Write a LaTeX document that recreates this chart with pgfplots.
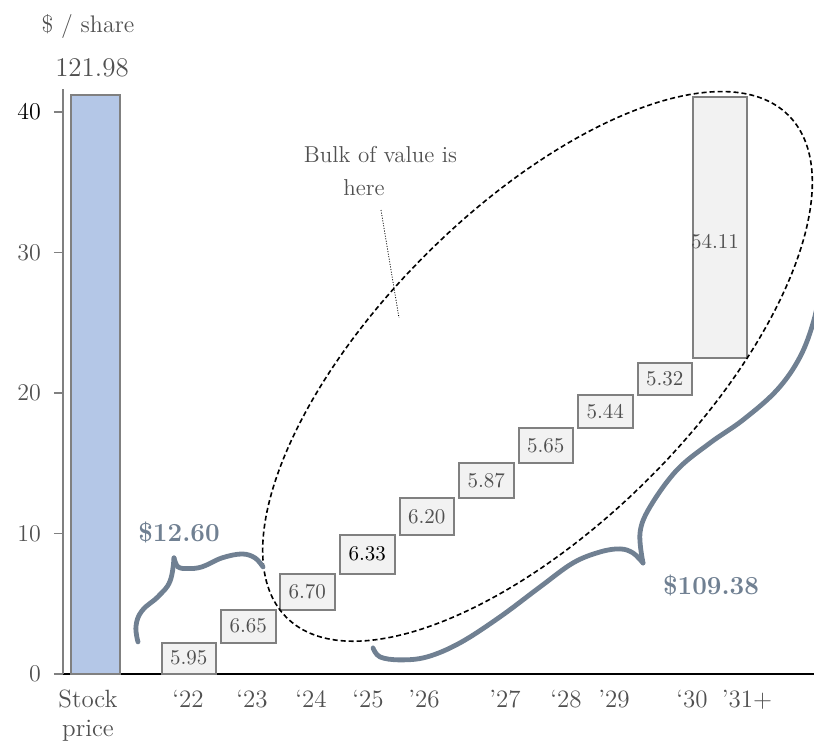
\documentclass[border=0pt]{standalone}
\usepackage{pgfplots}
\pgfplotsset{compat=1.18}
\usepackage{pgfplotstable}

\definecolor{barblue}{RGB}{180,199,231}
\definecolor{boxfill}{RGB}{242,242,242}
\definecolor{boxline}{RGB}{128,128,128}
\definecolor{txtgray}{RGB}{80,80,80}
\definecolor{slate}{RGB}{112,128,146}

% floating boxes: left, right, bottom, top (x in px of the 814 wide picture)
\newcommand{\seg}[4]{\addplot[fill=boxfill, draw=boxline, line width=1pt]
  coordinates {(#1,#3) (#1,#4) (#2,#4) (#2,#3)} -- cycle;}

\pgfplotstableread{
xc      ymid   lab
188.75  1.12   5.95
248.25  3.40   6.65
307.25  5.86   6.70
367.25  8.52   \textcolor{black}{6.33}
426.75  11.20  6.20
486.25  13.77  5.87
545.75  16.27  5.65
605.25  18.68  5.44
664.75  20.99  5.32
715.00  30.75  54.11
}\boxlabels

\begin{document}
\begin{tikzpicture}
\begin{axis}[
    width=375.5pt, height=292.5pt, scale only axis,
    xmin=63, xmax=814, ymin=0, ymax=41.64,
    enlargelimits=false, clip=false,
    axis x line=bottom, axis y line=left,
    x axis line style={black, line width=1pt, -},
    y axis line style={boxline, line width=0.8pt, -},
    tick align=outside,
    ytick={0,10,20,30,40},
    yticklabels={0,10,20,30,\textcolor{black}{40}},
    ytick style={draw=boxline, line width=0.8pt},
    major tick length=4.5pt,
    yticklabel style={font=\fontsize{12}{14}\selectfont, text=txtgray, xshift=-3pt},
    xtick={88,188,252,311,368,424,505,566,614,692,747},
    xticklabels={{Stock\\price},`22,`23,`24,`25,'26,'27,`28,'29,`30,'31+},
    xticklabel style={align=center, font=\fontsize{12.5}{14.5}\selectfont, text=txtgray, anchor=north},
    xtick style={draw=none},
    extra x ticks={63,130},
    extra x tick labels={},
    extra x tick style={tick style={draw=boxline, line width=0.8pt}},
]
% stock price bar (121.98, broken at top)
\addplot[fill=barblue, draw=boxline, line width=1pt]
  coordinates {(71,0) (71,41.2) (120,41.2) (120,0)} -- cycle;

\seg{161.5}{216}{0}{2.23}
\seg{221}{275.5}{2.23}{4.58}
\seg{280}{334.5}{4.58}{7.14}
\seg{340}{394.5}{7.14}{9.89}
\seg{399.5}{454}{9.89}{12.50}
\seg{459}{513.5}{12.50}{15.04}
\seg{518.5}{573}{15.04}{17.49}
\seg{578}{632.5}{17.49}{19.86}
\seg{637.5}{692}{19.86}{22.11}
\seg{693}{747}{22.47}{41.05}

\addplot[draw=none, mark=none, nodes near coords, point meta=explicit symbolic,
  every node near coord/.style={anchor=center, font=\fontsize{10.5}{12}\selectfont, text=txtgray}]
  table[x=xc, y=ymid, meta=lab] {\boxlabels};

% annotations
\coordinate (ec) at (axis cs:537.5,21.89);
\draw[black, line width=0.8pt, dash pattern=on 2.5pt off 1.5pt, rotate around={45:(ec)}]
  (ec) ellipse [x radius=177.5pt, y radius=79pt];
\draw[black, line width=0.4pt, dash pattern=on 0.5pt off 0.8pt]
  (axis cs:381,33.02) -- (axis cs:399,25.34);
\node[anchor=base, font=\fontsize{11.5}{13}\selectfont, text=txtgray] at (axis cs:380.5,36.37) {Bulk of value is};
\node[anchor=base, font=\fontsize{11.5}{13}\selectfont, text=txtgray] at (axis cs:364,34.02) {here};

\draw[slate, line width=2.4pt, line cap=round] plot[smooth, tension=0.7] coordinates {
  (axis cs:138,2.28) (axis cs:136,3.40) (axis cs:142,4.50) (axis cs:158,5.50)
  (axis cs:170,6.60) (axis cs:174,8.26)};
\draw[slate, line width=2.4pt, line cap=round] plot[smooth, tension=0.6] coordinates {
  (axis cs:174,8.26) (axis cs:178,7.62) (axis cs:188,7.50) (axis cs:202,7.62)
  (axis cs:222,8.26) (axis cs:242,8.54) (axis cs:255,8.26) (axis cs:263,7.62)};
\draw[slate, line width=2.4pt, line cap=round] plot[smooth, tension=0.6] coordinates {
  (axis cs:373,1.85) (axis cs:380,1.21) (axis cs:400,1.00) (axis cs:427,1.21) (axis cs:460,2.21)
  (axis cs:500,4.06) (axis cs:540,6.19) (axis cs:573,7.90) (axis cs:600,8.68)
  (axis cs:620,8.90) (axis cs:633,8.61) (axis cs:643,7.90)};
\draw[slate, line width=2.4pt, line cap=round] plot[smooth, tension=0.6] coordinates {
  (axis cs:643,7.90) (axis cs:640,10.04) (axis cs:650,11.89) (axis cs:677,14.52)
  (axis cs:710,16.44) (axis cs:743,18.08) (axis cs:777,20.21) (axis cs:800,22.56)
  (axis cs:814,25.20) (axis cs:822,28.0)};
\node[anchor=base, font=\fontsize{13}{15}\selectfont\bfseries, text=slate] at (axis cs:179,9.42) {\$12.60};
\node[anchor=base, font=\fontsize{13}{15}\selectfont\bfseries, text=slate] at (axis cs:711,5.62) {\$109.38};

\node[anchor=base, font=\fontsize{12}{15}\selectfont, text=txtgray] at (axis cs:88,45.69) {\$ / share};
\node[anchor=base, font=\fontsize{13.5}{16}\selectfont, text=txtgray] at (axis cs:92,42.49) {121.98};

\coordinate (bbtl) at (axis cs:0,47.97);
\coordinate (bbbr) at (axis cs:814,-5.20);
\end{axis}
\pgfresetboundingbox
\path[use as bounding box] (bbtl) rectangle (bbbr);
\end{tikzpicture}
\end{document}
